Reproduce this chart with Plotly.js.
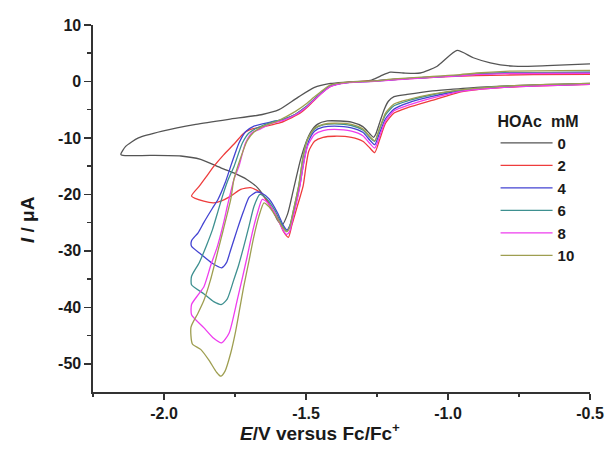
<!DOCTYPE html>
<html>
<head>
<meta charset="utf-8">
<script src="https://cdn.plot.ly/plotly-3.0.1.min.js"></script>
<style>html,body{margin:0;padding:0;background:#fff;}#chart{width:608px;height:457px;}</style>
</head>
<body>
<div id="chart"></div>
<script>
// HOAc concentrations (mM)
var seriesNames = ["0", "2", "4", "6", "8", "10"];
var seriesColors = ["#555555", "#ee3c3c", "#4343d2", "#3e9090", "#ee3cee", "#9e9e50"];

// 0 mM
var E0 = [-0.50,-0.70,-0.885,-0.99,-1.062,-1.144,-1.19,-1.21,-1.225,-1.24,-1.255,-1.262,-1.275,-1.30,-1.34,-1.38,-1.425,-1.46,-1.484,-1.50,-1.519,-1.544,-1.565,-1.584,-1.60,-1.613,-1.636,-1.671,-1.707,-1.754,-1.80,-1.871,-1.941,-2.047,-2.145,-2.152,-2.135,-2.09,-2.006,-1.888,-1.772,-1.654,-1.595,-1.531,-1.472,-1.414,-1.355,-1.273,-1.238,-1.203,-1.157,-1.098,-1.038,-0.968,-0.911,-0.851,-0.77,-0.651,-0.50];
var I0 = [-0.35,-0.6,-1.0,-1.4,-1.7,-2.3,-2.7,-3.5,-5.0,-7.2,-9.4,-9.9,-9.3,-8.0,-7.2,-7.0,-7.0,-7.6,-9.0,-10.8,-13.8,-19.1,-23.5,-25.4,-24.6,-23.3,-21.2,-18.8,-17.4,-16.2,-15.3,-13.8,-13.2,-13.1,-13.1,-12.9,-11.5,-10.0,-8.8,-7.6,-6.7,-5.85,-5.0,-2.9,-1.1,-0.35,-0.1,0.2,0.95,1.65,1.5,1.5,2.7,5.5,4.2,3.3,2.7,2.8,3.1];

// 2 mM
var E2 = [-0.50,-0.70,-0.85,-0.95,-1.06,-1.14,-1.19,-1.22,-1.24,-1.258,-1.275,-1.30,-1.34,-1.40,-1.44,-1.47,-1.49,-1.50,-1.51,-1.53,-1.55,-1.562,-1.58,-1.60,-1.625,-1.66,-1.695,-1.73,-1.765,-1.80,-1.825,-1.86,-1.903,-1.875,-1.853,-1.824,-1.79,-1.75,-1.72,-1.695,-1.64,-1.59,-1.55,-1.52,-1.49,-1.46,-1.43,-1.40,-1.36,-1.30,-1.20,-1.10,-1.00,-0.90,-0.70,-0.50];
var I2 = [-0.5,-0.8,-1.2,-1.8,-3.4,-4.6,-5.6,-7.4,-10.2,-12.6,-11.8,-10.6,-9.9,-9.7,-9.9,-10.6,-12.3,-15.0,-18.5,-22.0,-25.5,-27.6,-26.5,-24.2,-22.1,-19.7,-18.8,-19.1,-20.3,-21.2,-21.5,-21.2,-20.3,-18.5,-17.0,-15.0,-13.0,-10.9,-9.2,-8.5,-7.9,-7.3,-6.4,-5.6,-4.3,-2.8,-1.4,-0.6,-0.2,0.0,0.3,0.6,0.85,1.05,1.2,1.25];

// 4 mM
var E4 = [-0.50,-0.70,-0.85,-0.95,-1.06,-1.14,-1.19,-1.22,-1.24,-1.258,-1.275,-1.30,-1.34,-1.40,-1.44,-1.47,-1.49,-1.505,-1.52,-1.54,-1.555,-1.567,-1.58,-1.60,-1.63,-1.655,-1.675,-1.70,-1.72,-1.742,-1.765,-1.78,-1.797,-1.83,-1.87,-1.903,-1.903,-1.88,-1.86,-1.83,-1.81,-1.785,-1.765,-1.75,-1.736,-1.713,-1.683,-1.625,-1.58,-1.537,-1.50,-1.472,-1.44,-1.414,-1.355,-1.26,-1.19,-1.08,-0.97,-0.90,-0.80,-0.50];
var I4 = [-0.45,-0.75,-1.1,-1.6,-2.7,-3.8,-4.9,-6.6,-9.0,-11.2,-10.4,-9.0,-8.2,-7.9,-8.1,-8.8,-10.5,-13.5,-18.0,-22.5,-25.3,-26.3,-25.5,-23.3,-20.8,-19.8,-19.6,-20.5,-23.0,-26.2,-29.8,-32.1,-33.0,-32.2,-30.6,-29.2,-28.2,-26.8,-25.0,-22.5,-20.9,-18.0,-15.0,-12.8,-10.9,-8.9,-7.9,-7.2,-6.7,-5.8,-4.5,-3.2,-1.8,-0.8,-0.2,0.05,0.35,0.7,1.0,1.3,1.5,1.6];

// 6 mM
var E6 = [-0.50,-0.70,-0.85,-0.95,-1.06,-1.14,-1.19,-1.22,-1.24,-1.258,-1.275,-1.30,-1.34,-1.40,-1.44,-1.47,-1.495,-1.51,-1.525,-1.545,-1.558,-1.568,-1.58,-1.61,-1.64,-1.662,-1.683,-1.70,-1.719,-1.737,-1.754,-1.777,-1.797,-1.825,-1.86,-1.903,-1.903,-1.876,-1.85,-1.829,-1.81,-1.794,-1.775,-1.753,-1.724,-1.70,-1.671,-1.62,-1.58,-1.537,-1.50,-1.472,-1.44,-1.414,-1.355,-1.26,-1.19,-1.08,-0.97,-0.90,-0.80,-0.50];
var I6 = [-0.4,-0.7,-1.0,-1.5,-2.4,-3.4,-4.3,-5.9,-8.3,-10.6,-9.9,-8.6,-7.8,-7.5,-7.7,-8.4,-10.3,-13.3,-18.3,-23.0,-25.8,-26.5,-25.8,-22.8,-20.7,-20.0,-22.1,-25.5,-29.2,-32.5,-35.1,-38.5,-39.5,-39.0,-37.6,-36.0,-34.5,-32.1,-29.0,-26.2,-23.0,-20.3,-17.5,-15.0,-10.9,-9.1,-8.2,-7.2,-6.7,-5.8,-4.5,-3.2,-1.8,-0.8,-0.2,0.05,0.35,0.7,1.0,1.3,1.5,1.65];

// 8 mM
var E8 = [-0.50,-0.70,-0.85,-0.95,-1.06,-1.14,-1.19,-1.22,-1.24,-1.258,-1.275,-1.30,-1.34,-1.40,-1.44,-1.47,-1.495,-1.51,-1.525,-1.545,-1.558,-1.568,-1.58,-1.61,-1.635,-1.654,-1.671,-1.69,-1.707,-1.725,-1.742,-1.771,-1.797,-1.825,-1.86,-1.903,-1.903,-1.88,-1.859,-1.835,-1.812,-1.79,-1.777,-1.754,-1.736,-1.713,-1.69,-1.66,-1.62,-1.58,-1.537,-1.50,-1.472,-1.44,-1.414,-1.355,-1.26,-1.19,-1.08,-0.97,-0.90,-0.80,-0.50];
var I8 = [-0.5,-0.8,-1.2,-1.7,-3.0,-4.2,-5.2,-7.0,-9.6,-11.8,-11.0,-9.6,-8.8,-8.5,-8.7,-9.4,-11.5,-15.0,-19.5,-24.0,-26.6,-27.1,-26.4,-23.3,-21.5,-20.9,-23.3,-27.0,-31.0,-35.0,-38.7,-44.6,-46.3,-45.5,-43.6,-41.3,-39.5,-37.8,-36.3,-32.5,-29.2,-25.0,-22.1,-17.4,-15.0,-10.9,-9.1,-8.4,-7.4,-6.9,-5.9,-4.6,-3.3,-1.9,-0.9,-0.25,0.0,0.3,0.65,0.95,1.2,1.4,1.45];

// 10 mM
var E10 = [-0.50,-0.70,-0.85,-0.95,-1.06,-1.14,-1.19,-1.22,-1.24,-1.258,-1.275,-1.30,-1.34,-1.40,-1.44,-1.47,-1.495,-1.51,-1.525,-1.545,-1.558,-1.568,-1.58,-1.61,-1.63,-1.648,-1.666,-1.685,-1.70,-1.72,-1.736,-1.75,-1.765,-1.785,-1.80,-1.815,-1.84,-1.87,-1.90,-1.905,-1.88,-1.859,-1.836,-1.80,-1.765,-1.754,-1.73,-1.707,-1.684,-1.653,-1.60,-1.537,-1.50,-1.472,-1.44,-1.414,-1.355,-1.26,-1.19,-1.08,-0.97,-0.90,-0.80,-0.50];
var I10 = [-0.35,-0.6,-1.0,-1.45,-2.3,-3.2,-4.0,-5.6,-8.2,-10.5,-9.8,-8.4,-7.6,-7.4,-7.6,-8.3,-10.3,-13.2,-18.3,-23.0,-25.9,-26.6,-26.0,-23.6,-22.2,-21.5,-23.9,-27.8,-31.6,-36.5,-41.0,-44.8,-48.1,-51.3,-52.2,-51.5,-49.5,-47.5,-46.5,-43.5,-41.0,-38.7,-35.1,-28.0,-20.9,-17.4,-13.5,-10.5,-9.0,-8.0,-7.0,-5.3,-4.0,-2.8,-1.5,-0.6,-0.1,0.1,0.45,0.8,1.15,1.5,1.8,1.95];

// Axis ticks
var xTickVals = [-2.0, -1.5, -1.0, -0.5];
var xTickText = ["-2.0", "-1.5", "-1.0", "-0.5"];
var yTickVals = [10, 0, -10, -20, -30, -40, -50];
var yTickText = ["10", "0", "-10", "-20", "-30", "-40", "-50"];

var Es = [E0, E2, E4, E6, E8, E10];
var Is = [I0, I2, I4, I6, I8, I10];

var font = "Liberation Sans, Arial, Helvetica, sans-serif";
var traces = seriesNames.map(function (n, k) {
  return {
    x: Es[k], y: Is[k], name: n, type: "scatter", mode: "lines",
    line: {color: seriesColors[k], width: 1.3, shape: "spline", smoothing: 0.6}
  };
});

var layout = {
  width: 608, height: 457,
  margin: {l: 93, r: 18, t: 25, b: 65},
  paper_bgcolor: "#fff", plot_bgcolor: "#fff",
  font: {family: font, color: "#1a1a1a"},
  showlegend: true,
  legend: {
    x: 0.81, y: 0.78, xanchor: "left", yanchor: "top",
    bgcolor: "rgba(0,0,0,0)",
    font: {family: font, size: 15, weight: "bold", color: "#1a1a1a"},
    title: {text: "HOAc&nbsp;&nbsp;mM", font: {family: font, size: 16, weight: "bold", color: "#1a1a1a"}},
    tracegroupgap: 0, itemwidth: 52
  },
  xaxis: {
    range: [-2.25, -0.5], showgrid: false, zeroline: false,
    showline: true, linecolor: "#333", linewidth: 1.6,
    ticks: "outside", ticklen: 6, tickwidth: 1.5, tickcolor: "#333",
    tickmode: "array", tickvals: xTickVals, ticktext: xTickText,
    tickfont: {family: font, size: 16, weight: "bold", color: "#1a1a1a"},
    minor: {ticks: "outside", ticklen: 3, tickwidth: 1.5, tickcolor: "#333", tickvals: [-2.25, -1.75, -1.25, -0.75], showgrid: false}
  },
  yaxis: {
    range: [-55, 10], showgrid: false, zeroline: false,
    showline: true, linecolor: "#333", linewidth: 1.6,
    ticks: "outside", ticklen: 7, tickwidth: 1.5, tickcolor: "#333",
    tickmode: "array", tickvals: yTickVals, ticktext: yTickText,
    tickfont: {family: font, size: 16, weight: "bold", color: "#1a1a1a"},
    minor: {ticks: "outside", ticklen: 4, tickwidth: 1.5, tickcolor: "#333", tickvals: [5, -5, -15, -25, -35, -45], showgrid: false}
  },
  annotations: [
    {text: "<i>E</i>/V versus Fc/Fc<sup>+</sup>", xref: "paper", yref: "paper", x: 0.457, y: -0.109,
     xanchor: "center", yanchor: "middle", showarrow: false,
     font: {family: font, size: 19, weight: "bold", color: "#1a1a1a"}},
    {text: "<i>I</i> / \u03bcA", xref: "paper", yref: "paper", x: -0.133, y: 0.471, textangle: -90,
     xanchor: "center", yanchor: "middle", showarrow: false,
     font: {family: font, size: 19, weight: "bold", color: "#1a1a1a"}}
  ]
};

Plotly.newPlot("chart", traces, layout, {displayModeBar: false, staticPlot: true});
</script>
</body>
</html>
